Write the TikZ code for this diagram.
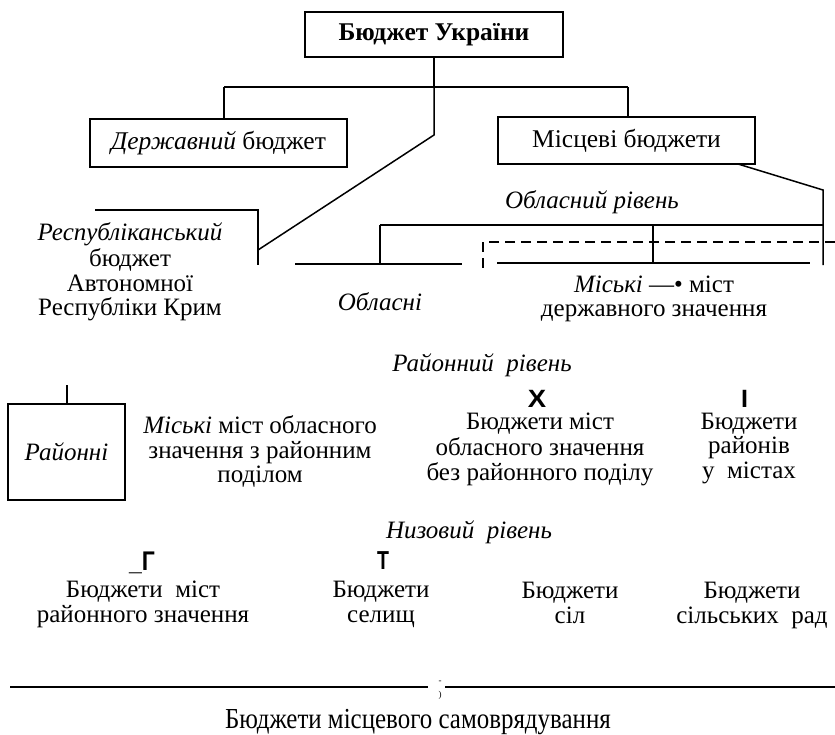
\documentclass[tikz,border=0pt]{standalone}
\usepackage{fontspec}
\setmainfont{Liberation Serif}
\newfontfamily\sansbf{Liberation Sans}
\newfontfamily\condserif[FakeStretch=0.86]{Liberation Serif}
\begin{document}
\begin{tikzpicture}[x=1pt,y=-1pt,
  line width=1.5pt,
  boxn/.style={draw, line width=1.5pt, inner sep=0pt},
  txt/.style={font=\fontsize{25}{24.5}\selectfont, align=center, inner sep=0pt},
  itxt/.style={font=\fontsize{25}{24.5}\selectfont\itshape, align=center, inner sep=0pt, anchor=base},
  lettermark/.style={font=\fontsize{25}{25}\selectfont\sansbf\bfseries, inner sep=0pt, anchor=base},
  dashln/.style={dash pattern=on 10pt off 6pt}]
\useasboundingbox (0,0) rectangle (835,734);

% boxes
\node[boxn, minimum width=258pt, minimum height=45pt, font=\fontsize{25.5}{26}\selectfont\bfseries] (ub) at (434,34.5) {Бюджет України};
\node[boxn, minimum width=257pt, minimum height=48pt, font=\fontsize{25.5}{26}\selectfont] (db) at (218.5,143) {\textit{Державний} бюджет};
\node[boxn, minimum width=257pt, minimum height=47pt, font=\fontsize{25.5}{26}\selectfont] (mb) at (626.5,140.5) {Місцеві бюджети};
\node[boxn, minimum width=117pt, minimum height=96pt, font=\fontsize{25}{26}\selectfont\itshape] (rb) at (66.5,452) {Районні};

% coordinates
\coordinate (j1) at (434,87);
\coordinate (jl) at (224,87);
\coordinate (jr) at (628,87);
\coordinate (k1) at (434,135);
\coordinate (k2) at (258,250);
\coordinate (r1) at (95,210);
\coordinate (r2) at (258,210);
\coordinate (r3) at (258,265);
\coordinate (m1) at (738,164);
\coordinate (m2) at (823,190);
\coordinate (m3) at (823,265);
\coordinate (h1) at (380,225);
\coordinate (h2) at (823,225);
\coordinate (h3) at (380,264);
\coordinate (o1) at (295,264);
\coordinate (o2) at (462,264);
\coordinate (v1) at (653,225);
\coordinate (v2) at (653,263);
\coordinate (s1) at (497,263);
\coordinate (s2) at (810,263);
\coordinate (d1) at (835,242);
\coordinate (d2) at (483,242);
\coordinate (d3) at (483,268);
\coordinate (st) at (67,385);
\coordinate (b1) at (10,687);
\coordinate (b2) at (428,687);
\coordinate (b3) at (445,687);
\coordinate (b4) at (835,687);

% connectors
\draw (ub.south) -- (j1);
\draw (jl) -- (jr);
\draw (jl) -- (jl |- db.north);
\draw (jr) -- (jr |- mb.north);
\draw (j1) -- (k1) -- (k2);
\draw (r1) -- (r2) -- (r3);
\draw (m1) -- (m2) -- (m3);
\draw (h1) -- (h2);
\draw (h1) -- (h3);
\draw (o1) -- (o2);
\draw (v1) -- (v2);
\draw (s1) -- (s2);
\draw[dashln] (d1) -- (d2) -- (d3);
\draw (st) -- (st |- rb.north);
\draw (b1) -- (b2);
\draw (b3) -- (b4);

% texts (single-line: anchored on baseline; multi-line: struts, centred)
\node[itxt] (oblr) at (592,208) {Обласний рівень};
\node[txt] (resp) at (130,273) {\strut\textit{Республіканський}\\бюджет\\Автономної\\Республіки Крим\strut};
\node[itxt] (obl) at (380,310) {Обласні};
\node[txt] (misk) at (654,299.5) {\strut\textit{Міські} —•\ міст\\державного значення\strut};
\node[itxt] (rair) at (482,371) {Районний\ \ рівень};
\node[txt] (mo) at (260,453) {\strut\textit{Міські} міст обласного\\значення з районним\\поділом\strut};
\node[lettermark] (mx) at (537,407) {\scalebox{1.1}[1]{X}};
\node[txt] (xb) at (540,450) {\strut Бюджети міст\\обласного значення\\без районного поділу\strut};
\node[lettermark] (mi) at (744.5,407) {I};
\node[txt] (ib) at (749,449) {\strut Бюджети\\районів\\у\ \ містах\strut};
\node[itxt] (nyz) at (469,538) {Низовий\ \ рівень};
\node[lettermark, font=\fontsize{27}{27}\selectfont\sansbf\bfseries] (mg) at (142,570) {\scalebox{0.85}[1]{\_Г}};
\node[lettermark, font=\fontsize{26}{26}\selectfont\sansbf\bfseries] (mt) at (383,569) {\scalebox{0.75}[1]{Т}};
\node[txt] (bb1) at (143,605) {\strut Бюджети\ \ міст\\районного значення\strut};
\node[txt] (bb2) at (381,605) {\strut Бюджети\\селищ\strut};
\node[txt] (bb3) at (570,606) {\strut Бюджети\\сіл\strut};
\node[txt] (bb4) at (752,606) {\strut Бюджети\\сільських\ \ рад\strut};
\node[inner sep=0pt, font=\fontsize{9}{9}\selectfont] (dsh) at (440,682) {-};
\node[inner sep=0pt, font=\fontsize{9}{9}\selectfont] (par) at (440,695) {)};
\node[inner sep=0pt, anchor=base, font=\fontsize{29}{30}\selectfont\condserif] (bms) at (418,728) {Бюджети місцевого самоврядування};
\end{tikzpicture}
\end{document}
